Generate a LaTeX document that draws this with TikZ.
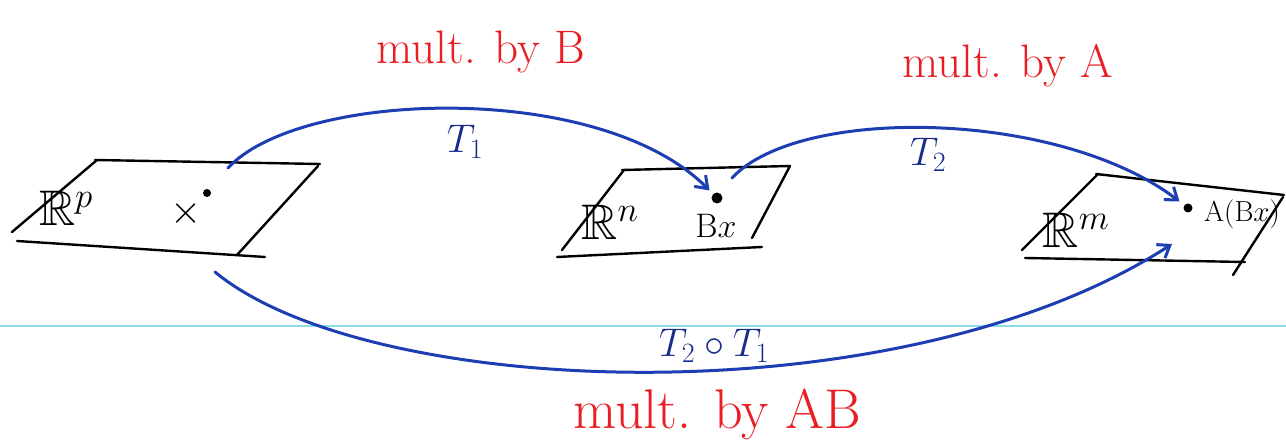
\RequirePackage{fix-cm}
\documentclass[tikz,border=0pt]{standalone}
\usepackage{amssymb}
\usepackage{amsmath}
\usepackage{xcolor}
\usepackage{tikz}
\usetikzlibrary{arrows.meta, positioning, calc}

\definecolor{inkred}{RGB}{232,30,36}
\definecolor{inkblue}{RGB}{28,62,178}
\definecolor{inknavy}{RGB}{24,44,140}
\definecolor{ruleline}{RGB}{140,220,235}

\begin{document}
\begin{tikzpicture}[
  x=1pt, y=-1pt,
  plane/.style={line width=2.4pt, line cap=round},
  map/.style={inkblue, line width=3pt, line cap=round, -{Straight Barb[length=11pt, width=16pt]}},
  redlbl/.style={text=inkred, font=\fontsize{47}{50}\selectfont},
  maplbl/.style={text=inknavy, font=\fontsize{40}{42}\selectfont},
  spacelbl/.style={font=\fontsize{50}{52}\selectfont},
  vecpt/.style={circle, fill=black, inner sep=0pt, minimum size=11pt},
]
  \useasboundingbox (0,0) rectangle (1286,446);

  % ── Ruled paper line ──
  \draw[ruleline, line width=1.2pt] (0,326) -- (1286,326);

  % ── Plane R^p ──
  \draw[plane] (95,160) -- (320,164);
  \draw[plane] (97,160) -- (12,232);
  \draw[plane] (17,241) -- (265,257);
  \draw[plane] (318,166) -- (237,255);
  \node[spacelbl] (Rp) at (66,208) {$\mathbb{R}^{p}$};
  \node[font=\fontsize{40}{42}\selectfont] (xlbl) at (186,214) {$\times$};
  \node[vecpt, minimum size=8pt] (xpt) at (207,193) {};

  % ── Plane R^n ──
  \draw[plane] (622,170) -- (790,166);
  \draw[plane] (624,170) -- (562,250);
  \draw[plane] (557,257) -- (762,247);
  \draw[plane] (790,166) -- (752,238);
  \node[spacelbl] (Rn) at (610,222) {$\mathbb{R}^{n}$};
  \node[vecpt] (bxpt) at (717,198) {};
  \node[font=\fontsize{34}{36}\selectfont] (bxlbl) at (716,226) {B$x$};

  % ── Plane R^m ──
  \draw[plane] (1096,174) -- (1284,195);
  \draw[plane] (1098,174) -- (1022,250);
  \draw[plane] (1025,258) -- (1245,262);
  \draw[plane] (1283,197) -- (1233,275);
  \node[spacelbl] (Rm) at (1076,230) {$\mathbb{R}^{m}$};
  \node[vecpt, minimum size=9pt] (abxpt) at (1188,208) {};
  \node[font=\fontsize{29}{31}\selectfont] (abxlbl) at (1242,214) {A(B$x$)};

  % ── Maps ──
  \coordinate (t1start) at (228,168);
  \coordinate (t2start) at (732,178);
  \coordinate (t12start) at (215,272);
  \coordinate (t12end) at (1172,244);
  \draw[map, shorten >=5pt] (t1start) .. controls (300,90) and (600,80) .. (bxpt);
  \draw[map, shorten >=6pt] (t2start) .. controls (800,105) and (1060,110) .. (abxpt);
  \draw[map] (t12start) .. controls (370,400) and (900,420) .. (t12end);

  % ── Labels ──
  \node[redlbl] (lblB) at (481,52) {mult. by B};
  \node[maplbl] (lblT1) at (465,142) {$T_1$};
  \node[redlbl] (lblA) at (1008,66) {mult. by A};
  \node[maplbl] (lblT2) at (928,155) {$T_2$};
  \node[maplbl] (lblT12) at (714,346) {$T_2 \circ T_1$};
  \node[redlbl, font=\fontsize{56}{58}\selectfont] (lblAB) at (717,414) {mult. by AB};

\end{tikzpicture}
\end{document}
